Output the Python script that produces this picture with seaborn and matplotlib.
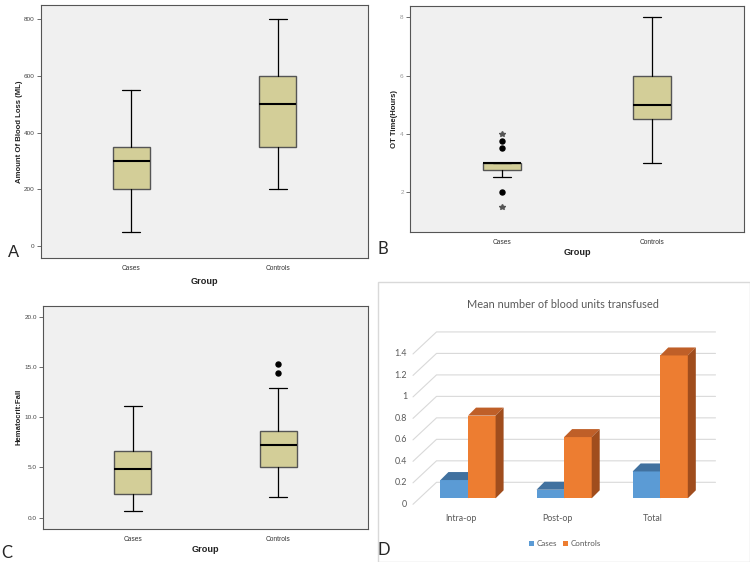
import numpy as np
import pandas as pd
import matplotlib.pyplot as plt
import seaborn as sns
from matplotlib.patches import Polygon, Rectangle

sns.set_theme(style="white")
plt.rcParams['font.family'] = ['Liberation Sans', 'DejaVu Sans']

groups = ["Cases", "Controls"]

# box summaries: [whisker low, Q1, median, Q3, whisker high]
# A - amount of blood loss (ML)
loss_cases = [50, 200, 300, 350, 550]
loss_controls = [200, 350, 500, 600, 800]

# B - OT time (hours)
ot_cases = [2.5, 2.75, 3.0, 3.0, 3.0]
ot_controls = [3.0, 4.5, 5.0, 6.0, 8.0]
ot_cases_outliers = [3.5, 3.75, 2.0]
ot_cases_extremes = [4.0, 1.5]

# C - hematocrit fall
hct_cases = [0.65, 2.4, 4.8, 6.6, 11.1]
hct_controls = [2.1, 5.05, 7.2, 8.65, 12.9]
hct_controls_outliers = [14.35, 15.3]

# D - mean number of blood units transfused
periods = ["Intra-op", "Post-op", "Total"]
units_cases = [0.17, 0.08, 0.25]
units_controls = [0.77, 0.57, 1.33]
d_ticks = [0, 0.2, 0.4, 0.6, 0.8, 1.0, 1.2, 1.4]
d_tick_labels = ["0", "0.2", "0.4", "0.6", "0.8", "1", "1.2", "1.4"]

W, H = 750, 562
fig = plt.figure(figsize=(7.5, 5.62), dpi=100)
fig.patch.set_facecolor("white")


def pos(left, top, right, bottom):
    # pixel box -> figure fraction
    return [left / W, 1 - bottom / H, (right - left) / W, (bottom - top) / H]


box_fill = "#D3CE98"


def spss_box(ax, summaries, ylim, yticks, ylabel, lab_x, grp_y):
    stats = []
    for name, s in zip(groups, summaries):
        stats.append(dict(label=name, whislo=s[0], q1=s[1], med=s[2],
                          q3=s[3], whishi=s[4], fliers=[]))
    ax.bxp(stats, positions=[0, 1], widths=0.25, patch_artist=True, showfliers=False,
           boxprops=dict(facecolor=box_fill, edgecolor="#555555", linewidth=1.0),
           medianprops=dict(color="black", linewidth=1.5),
           whiskerprops=dict(color="black", linewidth=0.9),
           capprops=dict(color="black", linewidth=0.9))
    ax.set_facecolor("#F0F0F0")
    ax.set_xlim(-0.615, 1.615)
    ax.set_ylim(*ylim)
    ax.set_yticks(yticks[0], yticks[1])
    ax.tick_params(axis="y", length=3, width=0.6, color="#555555", pad=1.5,
                   labelsize=4.6, labelcolor="#444444", left=True)
    ax.tick_params(axis="x", length=0, pad=5, labelsize=4.8, labelcolor="#333333")
    for sp in ax.spines.values():
        sp.set_color("#555555")
        sp.set_linewidth(0.8)
    ax.set_ylabel(ylabel, fontsize=5.6, fontweight="bold", color="#222222")
    ax.yaxis.set_label_coords(lab_x, 0.5)
    ax.set_xlabel("Group", fontsize=6.6, fontweight="bold", color="#222222")
    ax.xaxis.set_label_coords(0.5, grp_y)


# Panel A
ax_a = fig.add_axes(pos(41, 5, 368, 258))
spss_box(ax_a, [loss_cases, loss_controls], (-42.4, 850.6),
         ([0, 200, 400, 600, 800], ["0", "200", "400", "600", "800"]),
         "Amount Of Blood Loss (ML)", -0.056, -0.075)

# Panel B
ax_b = fig.add_axes(pos(410, 6, 744, 232))
spss_box(ax_b, [ot_cases, ot_controls], (0.626, 8.389),
         ([2, 4, 6, 8], ["2", "4", "6", "8"]),
         "OT Time(Hours)", -0.035, -0.071)
ax_b.tick_params(axis="y", labelcolor="#9a9a9a")
ax_b.plot([0] * len(ot_cases_outliers), ot_cases_outliers, "o", color="black", ms=3.6)
ax_b.plot([0] * len(ot_cases_extremes), ot_cases_extremes, "*", color="#555555", ms=4)

# Panel C
ax_c = fig.add_axes(pos(43, 305.7, 368, 528.7))
spss_box(ax_c, [hct_cases, hct_controls], (-1.1, 21.09),
         ([0, 5, 10, 15, 20], ["0.0", "5.0", "10.0", "15.0", "20.0"]),
         "Hematocrit:Fall", -0.0625, -0.073)
ax_c.plot([1] * len(hct_controls_outliers), hct_controls_outliers, "o", color="black", ms=3.6)

# Panel D - pseudo 3D column chart
fig.add_artist(Rectangle((378 / W, 1 - 561.5 / H), 371.5 / W, 279.5 / H,
                         transform=fig.transFigure, fill=False,
                         edgecolor="#D9D9D9", linewidth=1))
ax_d = fig.add_axes(pos(419, 337.2, 698, 498.3))
df = pd.DataFrame({
    "period": periods * 2,
    "units": units_cases + units_controls,
    "group": ["Cases"] * 3 + ["Controls"] * 3,
})
front = ["#5B9BD5", "#ED7D31"]
top = ["#41719F", "#BF5F28"]
side = ["#3A6690", "#A04D1D"]
sns.barplot(data=df, x="period", y="units", hue="group", palette=front, saturation=1,
            width=0.574, errorbar=None, linewidth=0, ax=ax_d)
handles, labels = ax_d.get_legend_handles_labels()
ax_d.get_legend().remove()
ax_d.set_xlim(-0.51, 2.393)
ax_d.set_ylim(0, 1.5)
ax_d.set_axis_off()

d_font = ["Lato", "DejaVu Sans"]
gray = "#595959"


def shift(x, y, dx, dy):
    p = ax_d.transData.transform((x, y))
    return ax_d.transData.inverted().transform(p + np.array([dx, dy]))


x0, x1 = ax_d.get_xlim()
for v, lab in zip(d_ticks, d_tick_labels):
    a = shift(x0, v, -6, -6)
    b = shift(x0, v, 17.5, 16)
    c = shift(x1, v, 17.5, 16)
    ax_d.plot([a[0], b[0], c[0]], [a[1], b[1], c[1]], color="#D9D9D9", lw=0.8,
              zorder=0, clip_on=False)
    t = shift(x0, v, -12, -6)
    ax_d.text(t[0], t[1], lab, ha="right", va="center", fontsize=6.4,
              color=gray, family=d_font, clip_on=False)

depth = 8
for i, cont in enumerate(ax_d.containers):
    for p in cont:
        x, w, h = p.get_x(), p.get_width(), p.get_height()
        p.set_zorder(2 + i)
        top_pts = [(x, h), (x + w, h), shift(x + w, h, depth, depth), shift(x, h, depth, depth)]
        side_pts = [(x + w, 0), (x + w, h), shift(x + w, h, depth, depth),
                    shift(x + w, 0, depth, depth)]
        ax_d.add_patch(Polygon(top_pts, closed=True, facecolor=top[i], lw=0,
                               zorder=2.1 + i, clip_on=False))
        ax_d.add_patch(Polygon(side_pts, closed=True, facecolor=side[i], lw=0,
                               zorder=2.1 + i, clip_on=False))

for k, lab in enumerate(periods):
    t = shift(k, 0, -7, -20)
    ax_d.text(t[0], t[1], lab, ha="center", va="center", fontsize=6.4,
              color=gray, family=d_font)

fig.text(563 / W, 1 - 304 / H, "Mean number of blood units transfused",
         ha="center", va="center", fontsize=7.9, color=gray, family=d_font)
fig.legend(handles, labels, loc="center", bbox_to_anchor=(565 / W, 1 - 544 / H),
           ncol=2, frameon=False, handlelength=0.55, handleheight=0.55,
           handletextpad=0.3, columnspacing=0.8,
           prop={"family": d_font, "size": 5.8}, labelcolor=gray)

# panel letters
fig.text(13.5 / W, 1 - 253 / H, "A", ha="center", va="center", fontsize=12)
fig.text(383 / W, 1 - 249.5 / H, "B", ha="center", va="center", fontsize=12, family=d_font)
fig.text(7 / W, 1 - 553 / H, "C", ha="center", va="center", fontsize=12, family=d_font)
fig.text(383.5 / W, 1 - 550 / H, "D", ha="center", va="center", fontsize=12, family=d_font)

fig.savefig("out.png", dpi=100)
